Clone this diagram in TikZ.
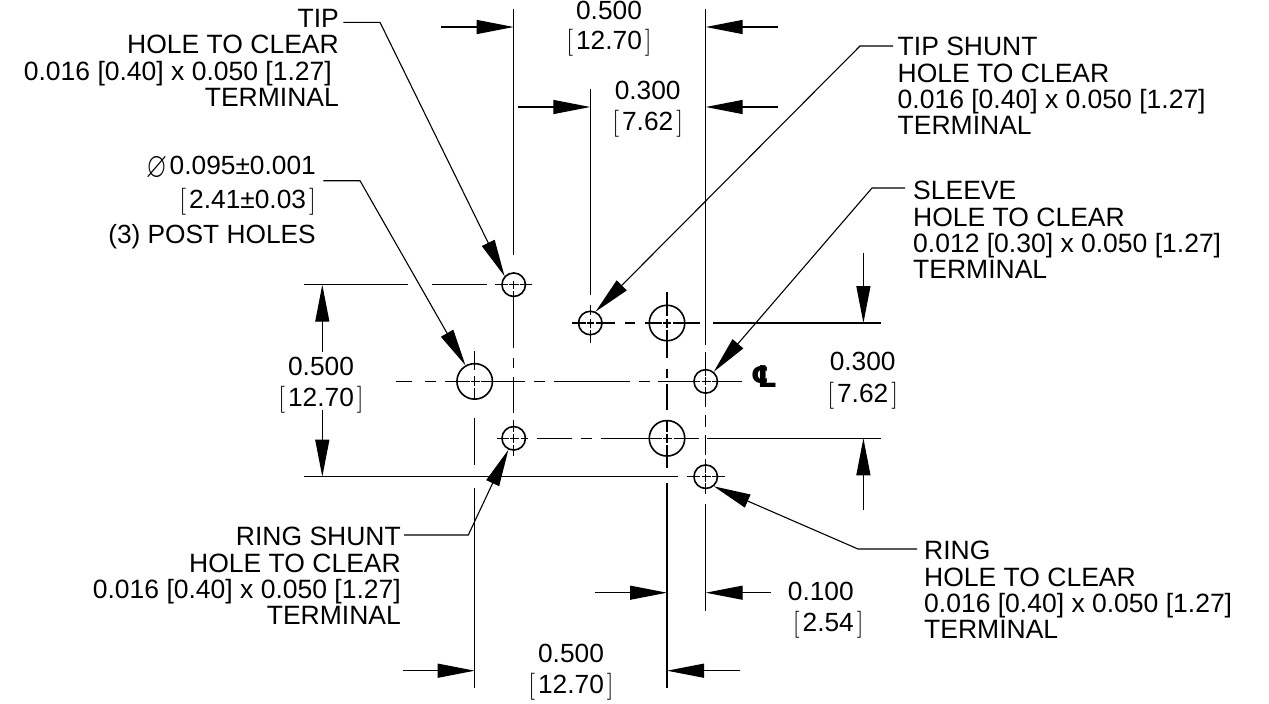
\documentclass[tikz,border=0pt]{standalone}
\usepackage{amssymb}
\usepackage{fontspec}
\setsansfont{Liberation Sans}
\newfontfamily\clfont{DejaVu Sans}
\usetikzlibrary{arrows.meta}
\newcommand{\brk}[1]{{\rmfamily\fontsize{27}{27}\selectfont[}\hspace{3pt}#1\hspace{3pt}{\rmfamily\fontsize{27}{27}\selectfont]}}
\tikzset{
  lbl/.style={font=\sffamily\fontsize{26.5}{26.4}\selectfont,inner sep=0pt},
  dimlbl/.style={font=\sffamily\fontsize{26.3}{30.5}\selectfont,inner sep=0pt,align=center},
  smallhole/.style={circle,draw,line width=1.6pt,inner sep=0pt,minimum size=23.5pt},
  bighole/.style={circle,draw,line width=1.6pt,inner sep=0pt,minimum size=35.5pt},
  ctr/.style={line width=1.4pt},
  dim/.style={line width=1.2pt,-{Triangle[length=37pt,width=14pt,sep=0pt]}},
  leader/.style={line width=1.1pt,-{Triangle[length=37pt,width=14pt,sep=0pt]}}
}
\begin{document}
\begin{tikzpicture}[x=1pt,y=-1pt]
\useasboundingbox (0,0) rectangle (1269,704);
% holes
\node [smallhole] (tip) at (513.7,284.7) {};
\node [smallhole] (tipshunt) at (590.3,323) {};
\node [bighole] (postb) at (667,323) {};
\node [bighole] (posta) at (474.7,381.4) {};
\node [smallhole] (sleeve) at (705.7,381.4) {};
\node [smallhole] (ringshunt) at (513.7,438.3) {};
\node [bighole] (postc) at (667,438.3) {};
\node [smallhole] (ring) at (705.7,476.7) {};
% centre lines, horizontal
\coordinate (ha) at (304,284.7);
\coordinate (hb) at (572,323);
\coordinate (hc) at (396,381.4);
\coordinate (hd) at (497,438.3);
\coordinate (he) at (304,476.7);
\draw [ctr,dash pattern=on 104 off 23.5 on 55 off 8.5 on 13 off 1 on 10 off 1 on 12] (ha) -- (532,284.7);
\draw [ctr,dash pattern=on 13.5 off 1.5 on 7 off 1.5 on 19.5 off 10 on 10 off 10 on 16.5 off 1.5 on 8 off 1.5 on 27.5 off 13 on 168] (hb) -- (881,323);
\draw [ctr,dash pattern=on 16 off 13 on 11 off 9 on 25 off 1 on 8.5 off 1.5 on 44 off 9 on 11 off 9 on 76 off 9 on 11 off 8 on 42 off 1.5 on 9 off 1 on 30.5] (hc) -- (742,381.4);
\draw [ctr,dash pattern=on 12 off 1 on 9 off 1.5 on 7 off 9 on 35.7 off 8.3 on 11 off 9 on 61 off 1.7 on 9 off 1.6 on 25 off 8.4 on 175] (hd) -- (881,438.3);
\draw [ctr,dash pattern=on 374.3 off 8.4 on 13.3 off 1.5 on 9 off 1.5 on 13] (he) -- (725,476.7);
% centre lines, vertical
\coordinate (va) at (513.7,9);
\coordinate (vb) at (590.3,89);
\coordinate (vc) at (474.7,351);
\coordinate (vd) at (667,291.5);
\coordinate (ve) at (705.7,9);
\draw [ctr,dash pattern=on 246 off 25.5 on 8.5 off 2 on 57 off 10 on 10 off 9 on 36 off 7 on 12 off 2 on 9 off 2 on 11] (va) -- (513.7,456);
\draw [ctr,dash pattern=on 206 off 10 on 10 off 3.5 on 9 off 2 on 13] (vb) -- (590.3,342.5);
\draw [ctr,dash pattern=on 19 off 6 on 10 off 2 on 11 off 19 on 47 off 23 on 200] (vc) -- (474.7,688);
\draw [ctr,dash pattern=on 24 off 3 on 9 off 2 on 28.5 off 11 on 9 off 6 on 26 off 10 on 12 off 1.5 on 9.5 off 2 on 23 off 14.5 on 205.5] (vd) -- (667,688);
\draw [ctr,dash pattern=on 336 off 7 on 24 off 1 on 8 off 1.5 on 20 off 8.5 on 12 off 8 on 20 off 3.5 on 14 off 1 on 8 off 1.5 on 11 off 10 on 106.5] (ve) -- (705.7,610.5);
% dimension arrows
\coordinate (da) at (441,27);
\coordinate (db) at (778,27);
\coordinate (dc) at (518,107);
\coordinate (dd) at (778,107);
\coordinate (de) at (322.3,351.7);
\coordinate (df) at (322.3,410);
\coordinate (dg) at (863.4,253);
\coordinate (dh) at (863.4,510);
\coordinate (di) at (595,592.7);
\coordinate (dj) at (770.7,592.7);
\coordinate (dk) at (403,670.7);
\coordinate (dl) at (740,670.7);
\draw [dim] (da) -- (da -| tip);
\draw [dim] (db) -- (db -| sleeve);
\draw [dim] (dc) -- (dc -| tipshunt);
\draw [dim] (dd) -- (dd -| sleeve);
\draw [dim] (de) -- (de |- tip);
\draw [dim] (df) -- (df |- ring);
\draw [dim] (dg) -- (dg |- tipshunt);
\draw [dim] (dh) -- (dh |- ringshunt);
\draw [dim] (di) -- (di -| postc);
\draw [dim] (dj) -- (dj -| ring);
\draw [dim] (dk) -- (dk -| posta);
\draw [dim] (dl) -- (dl -| postc);
% leaders
\coordinate (la) at (343.3,22.3);
\coordinate (lb) at (380,22.3);
\coordinate (lc) at (323.3,180.7);
\coordinate (ld) at (360,180.7);
\coordinate (le) at (893,46);
\coordinate (lf) at (860,46);
\coordinate (lg) at (905,188);
\coordinate (lh) at (872,188);
\coordinate (li) at (917,549);
\coordinate (lj) at (858,549);
\coordinate (lk) at (404,535);
\coordinate (ll) at (468.3,535);
\draw [leader] (la) -- (lb) -- (tip.137);
\draw [leader] (lc) -- (ld) -- (posta.120);
\draw [leader] (le) -- (lf) -- (tipshunt.65);
\draw [leader] (lg) -- (lh) -- (sleeve.50);
\draw [leader] (li) -- (lj) -- (ring.-50);
\draw [leader] (lk) -- (ll) -- (ringshunt.-115);
% labels
\node [lbl,anchor=east,align=right] (tiptxt) at (339,58) {TIP\\HOLE TO CLEAR\\0.016 [0.40] x 0.050 [1.27]\rule{7pt}{0pt}\\TERMINAL};
\node [lbl,anchor=east,align=right] (ringshunttxt) at (401,576) {RING SHUNT\\HOLE TO CLEAR\\0.016 [0.40] x 0.050 [1.27]\\TERMINAL};
\node [lbl,anchor=west,align=left] (tipshunttxt) at (897.5,86) {TIP SHUNT\\HOLE TO CLEAR\\0.016 [0.40] x 0.050 [1.27]\\TERMINAL};
\node [lbl,anchor=west,align=left] (sleevetxt) at (913,230) {SLEEVE\\HOLE TO CLEAR\\0.012 [0.30] x 0.050 [1.27]\\TERMINAL};
\node [lbl,anchor=west,align=left] (ringtxt) at (924,590) {RING\\HOLE TO CLEAR\\0.016 [0.40] x 0.050 [1.27]\\TERMINAL};
\node [lbl,font=\sffamily\fontsize{26.3}{34.5}\selectfont,anchor=east,align=right] (posttxt) at (316,202.5) {\raisebox{-3pt}{\fontsize{10}{10}\selectfont\scalebox{2.7}[3.6]{$\varnothing$}}\hspace{2pt}0.095\textpm0.001\\\brk{2.41\textpm0.03}\\(3) POST HOLES};
\node [dimlbl] (dimtop) at (609,28.5) {0.500\\\brk{12.70}};
\node [dimlbl] (dimtwo) at (647.7,109) {0.300\\\brk{7.62}};
\node [dimlbl] (dimleft) at (321,385) {0.500\\\brk{12.70}};
\node [dimlbl,font=\sffamily\fontsize{26.3}{32}\selectfont] (dimright) at (862.7,381) {0.300\\\brk{7.62}};
\node [dimlbl,anchor=west,align=left] (dimhund) at (787.7,610) {0.100\\\hspace{5pt}\brk{2.54}};
\node [dimlbl] (dimbot) at (571,672) {0.500\\\brk{12.70}};
\node [font=\clfont\bfseries\fontsize{30}{30}\selectfont,inner sep=0pt] (cl) at (764,377) {^^^^2104};
\end{tikzpicture}
\end{document}
